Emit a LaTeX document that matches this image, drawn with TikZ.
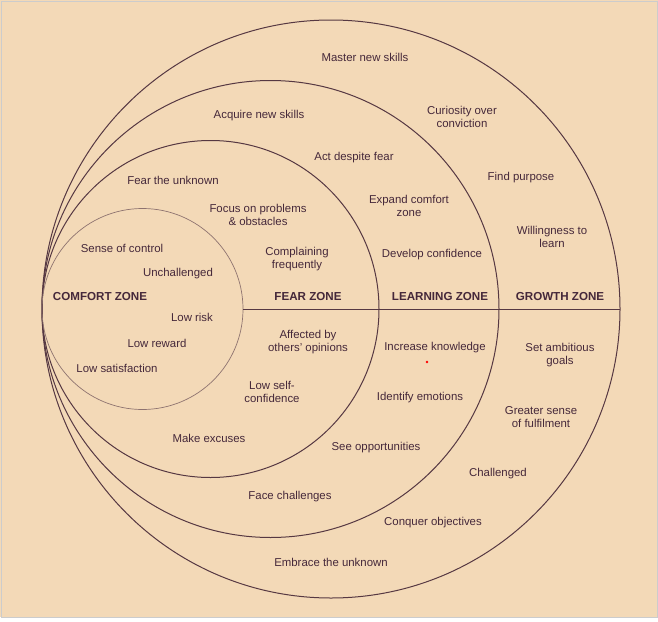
\documentclass[tikz,border=0pt]{standalone}
\usepackage{fontspec}
\setmainfont{Liberation Sans}
\definecolor{bg}{HTML}{F3D9B7}
\definecolor{ink}{HTML}{45283A}
\definecolor{linec}{HTML}{563842}
\definecolor{lightline}{HTML}{8E7370}
\tikzset{
  lbl/.style={text=ink, font=\fontsize{11.4}{13}\selectfont, align=center, inner sep=0pt},
  zone/.style={text=ink, font=\fontsize{11.6}{13.5}\selectfont\bfseries, inner sep=0pt},
  ring/.style={draw=linec, line width=1pt},
  innerring/.style={draw=lightline, line width=0.7pt},
}
\begin{document}
\begin{tikzpicture}[x=1pt,y=-1pt]
\useasboundingbox (0,0) rectangle (658,621);
\fill[white] (0,0) rectangle (658,621);
\fill[bg] (0,0) rectangle (658,617);
\draw[gray!40, line width=0.8pt] (1,1) rectangle (657,617);
% circles
\coordinate (tan) at (42,309);
\draw[ring] (331,309) circle (289);
\draw[ring] (270.5,309) circle (228.5);
\draw[ring] (210.5,309) circle (168.5);
\draw[innerring] (142.5,309) circle (100.5);
\coordinate (cr) at (243,309);
\coordinate (gr) at (620,309);
\draw[ring] (cr) -- (gr);
% zone labels
\node[zone] (cz) at (100,297) {COMFORT ZONE};
\node[zone] (fz) at (308,297) {FEAR ZONE};
\node[zone] (lz) at (440,297) {LEARNING ZONE};
\node[zone] (gz) at (560,297) {GROWTH ZONE};
% texts
\node[lbl] (t1) at (365,57) {Master new skills};
\node[lbl] (t2) at (462,117) {Curiosity over\\conviction};
\node[lbl] (t3) at (259,116) {Acquire new skills};
\node[lbl] (t4) at (354,158) {Act despite fear};
\node[lbl] (t5) at (521,178) {Find purpose};
\node[lbl] (t6) at (173,180) {Fear the unknown};
\node[lbl] (t7) at (258,215) {Focus on problems\\\& obstacles};
\node[lbl] (t8) at (409,206) {Expand comfort\\zone};
\node[lbl] (t9) at (552,237) {Willingness to\\learn};
\node[lbl] (t10) at (122,248) {Sense of control};
\node[lbl] (t11) at (297,259) {Complaining\\frequently};
\node[lbl] (t12) at (432,255) {Develop confidence};
\node[lbl] (t13) at (178,274) {Unchallenged};
\node[lbl] (t14) at (192,317) {Low risk};
\node[lbl] (t15) at (308,342) {Affected by\\others' opinions};
\node[lbl] (t16) at (435,348) {Increase knowledge};
\node[lbl] (t17) at (560,355) {Set ambitious\\goals};
\node[lbl] (t18) at (157,343) {Low reward};
\node[lbl] (t19) at (117,368) {Low satisfaction};
\node[lbl] (t20) at (272,392) {Low self-\\confidence};
\node[lbl] (t21) at (420,398) {Identify emotions};
\node[lbl] (t22) at (541,417) {Greater sense\\of fulfilment};
\node[lbl] (t23) at (209,438) {Make excuses};
\node[lbl] (t24) at (376,448) {See opportunities};
\node[lbl] (t25) at (498,474) {Challenged};
\node[lbl] (t26) at (290,497) {Face challenges};
\node[lbl] (t27) at (433,523) {Conquer objectives};
\node[lbl] (t28) at (331,562) {Embrace the unknown};
\fill[red] (427,362) circle (1.3);
\end{tikzpicture}
\end{document}
